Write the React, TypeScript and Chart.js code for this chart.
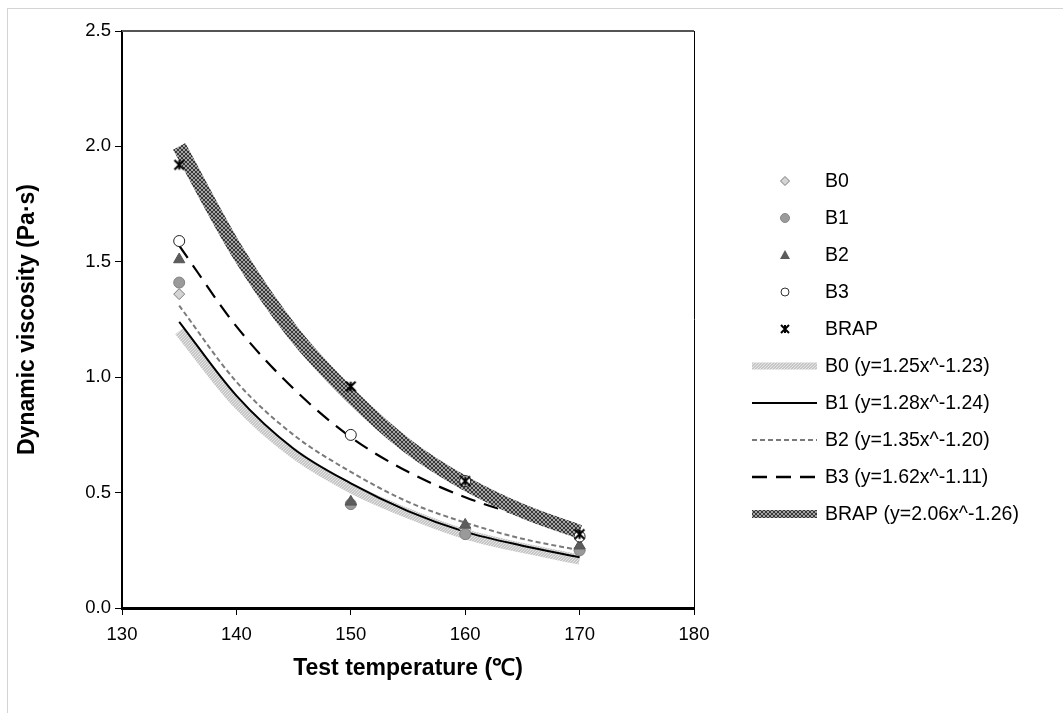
import React, { useEffect, useRef } from 'react';
import { Chart, registerables } from 'chart.js';

Chart.register(...registerables);

// ---- data ----
const temperatures = [135, 150, 160, 170];
const b0Points = [1.36, 0.45, 0.34, 0.25];
const b1Points = [1.41, 0.45, 0.32, 0.25];
const b2Points = [1.51, 0.46, 0.36, 0.27];
const b3Points = [1.59, 0.75, 0.55, 0.31];
const brapPoints = [1.92, 0.96, 0.55, 0.32];

const fitTemperatures = [135, 140, 145, 150, 155, 160, 165, 170];
const b0Fit = [1.2, 0.89, 0.67, 0.52, 0.41, 0.32, 0.26, 0.21];
const b1Fit = [1.24, 0.92, 0.69, 0.54, 0.42, 0.33, 0.27, 0.22];
const b2Fit = [1.31, 0.98, 0.75, 0.59, 0.46, 0.37, 0.3, 0.25];
const b3Fit = [1.57, 1.22, 0.95, 0.74, 0.59, 0.48, 0.4, 0.34];
const brapFit = [2.0, 1.55, 1.19, 0.92, 0.7, 0.54, 0.42, 0.33];

const pointLabels = ['B0', 'B1', 'B2', 'B3', 'BRAP'];
const fitLabels = [
  'B0 (y=1.25x^-1.23)',
  'B1 (y=1.28x^-1.24)',
  'B2 (y=1.35x^-1.20)',
  'B3 (y=1.62x^-1.11)',
  'BRAP (y=2.06x^-1.26)',
];
const xTicks = [130, 140, 150, 160, 170, 180];
const yTicks = [0, 0.5, 1.0, 1.5, 2.0, 2.5];

const FONT = "'Liberation Sans', Arial, Helvetica, sans-serif";

function hatchPattern(ctx: CanvasRenderingContext2D) {
  const c = document.createElement('canvas');
  c.width = 4;
  c.height = 4;
  const g = c.getContext('2d')!;
  g.fillStyle = '#a4a4a4';
  g.fillRect(0, 0, 4, 4);
  g.fillStyle = '#383838';
  for (let i = 0; i < 4; i++) {
    g.fillRect(i, i, 1, 1);
    g.fillRect(3 - i, i, 1, 1);
  }
  return ctx.createPattern(c, 'repeat')!;
}

function speckPattern(ctx: CanvasRenderingContext2D) {
  const c = document.createElement('canvas');
  c.width = 3;
  c.height = 3;
  const g = c.getContext('2d')!;
  g.fillStyle = '#c6c6c6';
  g.fillRect(0, 0, 3, 3);
  g.fillStyle = '#e6e6e6';
  g.fillRect(0, 0, 1, 1);
  g.fillRect(2, 1, 1, 1);
  g.fillRect(1, 2, 1, 1);
  return ctx.createPattern(c, 'repeat')!;
}

function drawStar(g: CanvasRenderingContext2D, cx: number, cy: number, r: number) {
  g.strokeStyle = '#000';
  g.lineWidth = 2;
  g.beginPath();
  g.moveTo(cx - r, cy - r);
  g.lineTo(cx + r, cy + r);
  g.moveTo(cx + r, cy - r);
  g.lineTo(cx - r, cy + r);
  g.moveTo(cx, cy - r);
  g.lineTo(cx, cy + r);
  g.stroke();
}

function starImage() {
  const c = document.createElement('canvas');
  c.width = 13;
  c.height = 13;
  const g = c.getContext('2d')!;
  drawStar(g, 6.5, 6.5, 4.8);
  return c;
}

const LW = 65;
const LH = 16;
function legendCanvas(draw: (g: CanvasRenderingContext2D) => void) {
  const c = document.createElement('canvas');
  c.width = LW;
  c.height = LH;
  const g = c.getContext('2d')!;
  draw(g);
  return c;
}

function buildLegendImages() {
  const cx = 33;
  const cy = LH / 2;
  return [
    legendCanvas((g) => {
      g.beginPath();
      g.moveTo(cx, cy - 4.5);
      g.lineTo(cx + 4.5, cy);
      g.lineTo(cx, cy + 4.5);
      g.lineTo(cx - 4.5, cy);
      g.closePath();
      g.fillStyle = '#d4d4d4';
      g.fill();
      g.strokeStyle = '#7a7a7a';
      g.lineWidth = 1;
      g.stroke();
    }),
    legendCanvas((g) => {
      g.beginPath();
      g.arc(cx, cy, 4.5, 0, Math.PI * 2);
      g.fillStyle = '#9a9a9a';
      g.fill();
      g.strokeStyle = '#888';
      g.lineWidth = 1;
      g.stroke();
    }),
    legendCanvas((g) => {
      g.beginPath();
      g.moveTo(cx, cy - 5);
      g.lineTo(cx + 5, cy + 4);
      g.lineTo(cx - 5, cy + 4);
      g.closePath();
      g.fillStyle = '#5c5c5c';
      g.fill();
    }),
    legendCanvas((g) => {
      g.beginPath();
      g.arc(cx, cy, 4, 0, Math.PI * 2);
      g.fillStyle = '#fff';
      g.fill();
      g.strokeStyle = '#333';
      g.lineWidth = 1;
      g.stroke();
    }),
    legendCanvas((g) => drawStar(g, cx, cy, 4)),
    legendCanvas((g) => {
      g.fillStyle = speckPattern(g);
      g.fillRect(0, cy - 3.5, LW, 7);
    }),
    legendCanvas((g) => {
      g.strokeStyle = '#000';
      g.lineWidth = 2;
      g.beginPath();
      g.moveTo(0, cy);
      g.lineTo(LW, cy);
      g.stroke();
    }),
    legendCanvas((g) => {
      g.strokeStyle = '#7a7a7a';
      g.lineWidth = 2;
      g.setLineDash([5, 3]);
      g.beginPath();
      g.moveTo(0, cy);
      g.lineTo(LW, cy);
      g.stroke();
    }),
    legendCanvas((g) => {
      g.strokeStyle = '#000';
      g.lineWidth = 2.5;
      g.setLineDash([15, 9]);
      g.beginPath();
      g.moveTo(0, cy);
      g.lineTo(LW, cy);
      g.stroke();
    }),
    legendCanvas((g) => {
      g.fillStyle = hatchPattern(g);
      g.fillRect(0, cy - 4, LW, 8);
    }),
  ];
}

function toXY(xs: number[], ys: number[]) {
  return xs.map((x, i) => ({ x, y: ys[i] }));
}

export default function App() {
  const ref = useRef<HTMLCanvasElement>(null);

  useEffect(() => {
    const canvas = ref.current!;
    const ctx = canvas.getContext('2d')!;
    const dark = hatchPattern(ctx);
    const light = speckPattern(ctx);
    const star = starImage();
    const legendImages = buildLegendImages();

    const pointStyles: any[] = [
      { pointStyle: 'rectRot', pointRadius: 5.5, backgroundColor: '#d4d4d4', borderColor: '#7a7a7a', borderWidth: 1 },
      { pointStyle: 'circle', pointRadius: 5.5, backgroundColor: '#9a9a9a', borderColor: '#808080', borderWidth: 1 },
      { pointStyle: 'triangle', pointRadius: 6.5, backgroundColor: '#5c5c5c', borderColor: '#555', borderWidth: 1 },
      { pointStyle: 'circle', pointRadius: 5.5, backgroundColor: '#ffffff', borderColor: '#222', borderWidth: 1 },
      { pointStyle: star, pointRadius: 6, backgroundColor: '#000', borderColor: '#000', borderWidth: 1 },
    ];
    const pointSeries = [b0Points, b1Points, b2Points, b3Points, brapPoints];
    const fitSeries = [b0Fit, b1Fit, b2Fit, b3Fit, brapFit];
    const fitStyles: any[] = [
      { borderColor: light, borderWidth: 10 },
      { borderColor: '#000', borderWidth: 2 },
      { borderColor: '#7a7a7a', borderWidth: 2, borderDash: [5, 3] },
      { borderColor: '#000', borderWidth: 2.2, borderDash: [15, 9] },
      { borderColor: dark, borderWidth: 14 },
    ];

    const datasets: any[] = [
      ...pointSeries.map((s, i) => ({
        label: pointLabels[i],
        data: toXY(temperatures, s),
        showLine: false,
        pointHoverRadius: 0,
        order: 5 - i,
        ...pointStyles[i],
      })),
      ...fitSeries.map((s, i) => ({
        label: fitLabels[i],
        data: toXY(fitTemperatures, s),
        showLine: true,
        pointRadius: 0,
        pointHoverRadius: 0,
        cubicInterpolationMode: 'monotone',
        fill: false,
        borderCapStyle: 'butt',
        order: 10 - i,
        ...fitStyles[i],
      })),
    ];

    const frame = {
      id: 'frame',
      afterDatasetsDraw(chart: any) {
        const { ctx: c, chartArea: a } = chart;
        c.save();
        c.strokeStyle = '#555';
        c.lineWidth = 2;
        c.beginPath();
        c.moveTo(a.left, a.top);
        c.lineTo(a.right, a.top);
        c.stroke();
        c.strokeStyle = '#000';
        c.lineWidth = 1;
        c.beginPath();
        c.moveTo(a.right + 0.5, a.top);
        c.lineTo(a.right + 0.5, a.bottom);
        c.stroke();
        c.restore();
      },
    };

    // legend drawn beside the plot, one row per dataset
    const LEG_X = 752;
    const LEG_Y0 = 181;
    const LEG_STEP = 37;
    const legend = {
      id: 'sideLegend',
      afterDraw(chart: any) {
        const c = chart.ctx;
        c.save();
        c.font = `19.5px ${FONT}`;
        c.fillStyle = '#000';
        c.textBaseline = 'middle';
        c.textAlign = 'left';
        chart.data.datasets.forEach((ds: any, i: number) => {
          const cy = LEG_Y0 + i * LEG_STEP;
          c.drawImage(legendImages[i], LEG_X, cy - LH / 2);
          c.fillText(ds.label, LEG_X + LW + 8, cy + 1);
        });
        c.restore();
      },
    };

    const chart = new Chart(canvas, {
      type: 'scatter',
      data: { datasets },
      plugins: [frame, legend],
      options: {
        responsive: false,
        animation: false,
        events: [],
        devicePixelRatio: 1,
        layout: { padding: { top: 0, bottom: 18, left: 0, right: 369 } },
        plugins: {
          tooltip: { enabled: false },
          legend: { display: false },
        },
        scales: {
          x: {
            type: 'linear',
            position: 'bottom',
            min: 130,
            max: 180,
            afterBuildTicks: (s: any) => {
              s.ticks = xTicks.map((v) => ({ value: v }));
            },
            afterFit: (s: any) => {
              s.height = 87;
            },
            ticks: {
              color: '#000',
              padding: 9,
              font: { family: FONT, size: 18.5 },
              callback: (v: any) => String(v),
            },
            grid: { drawOnChartArea: false, drawTicks: true, tickLength: 7, color: '#000', tickWidth: 1 },
            border: { color: '#000', width: 3 },
            title: {
              display: true,
              text: 'Test temperature (℃)',
              color: '#000',
              font: { family: FONT, size: 23, weight: 'bold' },
              padding: { top: 4, bottom: 13 },
            },
          },
          y: {
            type: 'linear',
            position: 'left',
            min: 0,
            max: 2.5,
            afterBuildTicks: (s: any) => {
              s.ticks = yTicks.map((v) => ({ value: v }));
            },
            afterFit: (s: any) => {
              s.width = 122;
            },
            ticks: {
              color: '#000',
              padding: 4,
              font: { family: FONT, size: 18.5 },
              callback: (v: any) => Number(v).toFixed(1),
            },
            grid: { drawOnChartArea: false, drawTicks: true, tickLength: 7, color: '#000', tickWidth: 1 },
            border: { color: '#000', width: 2 },
            title: {
              display: true,
              text: 'Dynamic viscosity (Pa·s)',
              color: '#000',
              font: { family: FONT, size: 23, weight: 'bold' },
              padding: { top: 14, bottom: 4 },
            },
          },
          xTop: {
            type: 'linear',
            position: 'top',
            min: 130,
            max: 180,
            ticks: { display: false },
            grid: { display: false, drawTicks: false },
            border: { display: false },
            afterFit: (s: any) => {
              s.height = 31;
            },
          },
        },
      } as any,
    });

    return () => chart.destroy();
  }, []);

  return (
    <div style={{ position: 'fixed', left: 0, top: 0, width: 1063, height: 713, background: '#fff', overflow: 'hidden' }}>
      <div
        style={{
          position: 'absolute',
          left: 7,
          top: 8,
          right: -5,
          bottom: -5,
          borderLeft: '1px solid #d4d4d4',
          borderTop: '1px solid #d4d4d4',
        }}
      />
      <canvas ref={ref} width={1063} height={713} style={{ position: 'absolute', left: 0, top: 0 }} />
    </div>
  );
}
